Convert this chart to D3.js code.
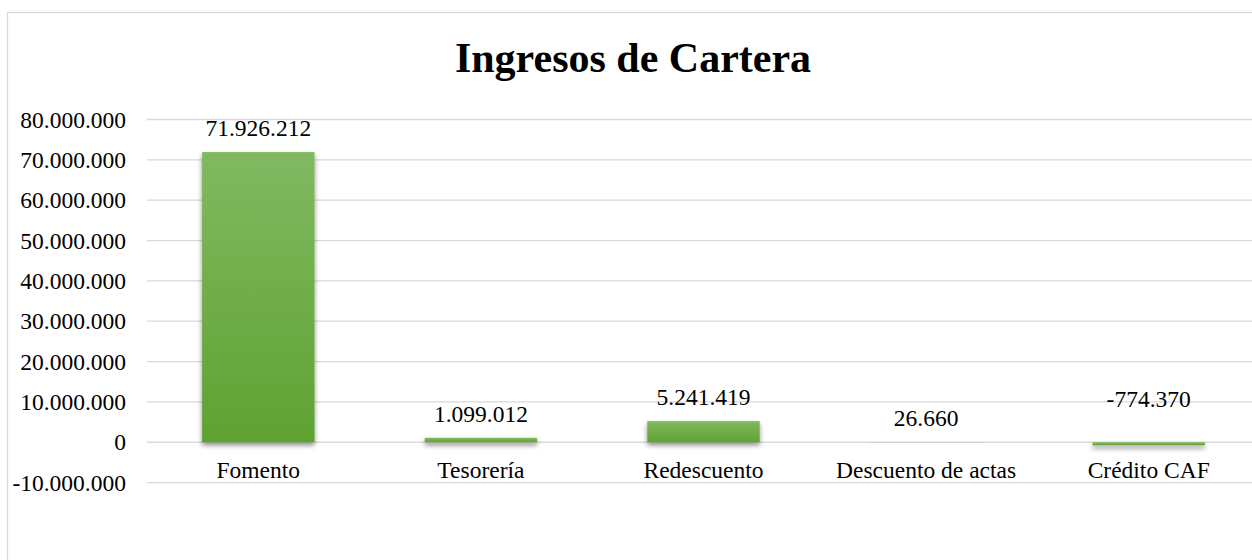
<!DOCTYPE html>
<html>
<head>
<meta charset="utf-8">
<script src="https://cdn.jsdelivr.net/npm/d3@7"></script>
<style>
html,body{margin:0;padding:0;background:#fff;overflow:hidden;}
svg{display:block;}
text{font-family:"Liberation Serif","Times New Roman",serif;fill:#000;}
</style>
</head>
<body>
<svg id="chart" width="1252" height="560"></svg>
<script>
const categories = ["Fomento", "Tesorería", "Redescuento", "Descuento de actas", "Crédito CAF"];
const values = [71926212, 1099012, 5241419, 26660, -774370];
const tickValues = [-10000000, 0, 10000000, 20000000, 30000000, 40000000, 50000000, 60000000, 70000000, 80000000];
const title = "Ingresos de Cartera";

const svg = d3.select("#chart");
const W = 1252, H = 560;

const fmt = v => {
  const s = Math.abs(Math.round(v)).toString().replace(/\B(?=(\d{3})+(?!\d))/g, ".");
  return (v < 0 ? "-" : "") + s;
};

// outer chart border
svg.append("rect").attr("x", 7.5).attr("y", 12.5).attr("width", 1400).attr("height", 700)
  .attr("fill", "#fff").attr("stroke", "#d9d9d9").attr("stroke-width", 1.3);

const defs = svg.append("defs");
const grad = defs.append("linearGradient").attr("id", "barGrad").attr("x1", 0).attr("y1", 0).attr("x2", 0).attr("y2", 1);
grad.append("stop").attr("offset", "0%").attr("stop-color", "#81b961");
grad.append("stop").attr("offset", "100%").attr("stop-color", "#5fa232");
const flt = defs.append("filter").attr("id", "shadow").attr("filterUnits", "userSpaceOnUse")
  .attr("x", 0).attr("y", 0).attr("width", W).attr("height", H);
flt.append("feDropShadow").attr("dx", 0).attr("dy", 3).attr("stdDeviation", 2.5)
  .attr("flood-color", "#000").attr("flood-opacity", 0.45);

const x = d3.scaleBand().domain(categories).range([147, 1260]).paddingInner(0.495).paddingOuter(0.2475);
const y = d3.scaleLinear().domain([-10000000, 80000000]).range([482.6, 119.5]);

// gridlines
svg.append("g").selectAll("line").data(tickValues).join("line")
  .attr("x1", 147).attr("x2", W)
  .attr("y1", d => y(d)).attr("y2", d => y(d))
  .attr("stroke", "#d9d9d9").attr("stroke-width", 1.3);

// y axis labels
const yAxis = d3.axisLeft(y).tickValues(tickValues).tickFormat(fmt).tickSize(0).tickPadding(0);
const ya = svg.append("g").attr("transform", "translate(126,0)").call(yAxis);
ya.select(".domain").remove();
ya.attr("font-family", null);
ya.selectAll("text").attr("font-size", 23.5).attr("fill", "#000");

// bars
const data = categories.map((c, i) => ({c, v: values[i]}));
svg.append("g").selectAll("rect").data(data).join("rect")
  .attr("x", d => x(d.c))
  .attr("width", x.bandwidth())
  .attr("y", d => Math.min(y(d.v), y(0)))
  .attr("height", d => Math.abs(y(d.v) - y(0)))
  .attr("fill", "url(#barGrad)")
  .attr("filter", "url(#shadow)");

// data labels
svg.append("g").selectAll("text").data(data).join("text")
  .attr("x", d => x(d.c) + x.bandwidth() / 2)
  .attr("y", d => d.v >= 0 ? y(d.v) - 16 : y(0) - 35)
  .attr("text-anchor", "middle")
  .attr("font-size", 23.5)
  .text(d => fmt(d.v));

// category labels
const xAxis = d3.axisBottom(x).tickSize(0).tickPadding(0);
const xa = svg.append("g").attr("transform", `translate(0,${y(0)})`).call(xAxis);
xa.select(".domain").remove();
xa.attr("font-family", null);
xa.selectAll("text").attr("font-size", 23.5).attr("fill", "#000").attr("dy", null).attr("y", 36);

// title
svg.append("text").attr("x", 633).attr("y", 72).attr("text-anchor", "middle")
  .attr("font-size", 42).attr("font-weight", "bold").text(title);
</script>
</body>
</html>
